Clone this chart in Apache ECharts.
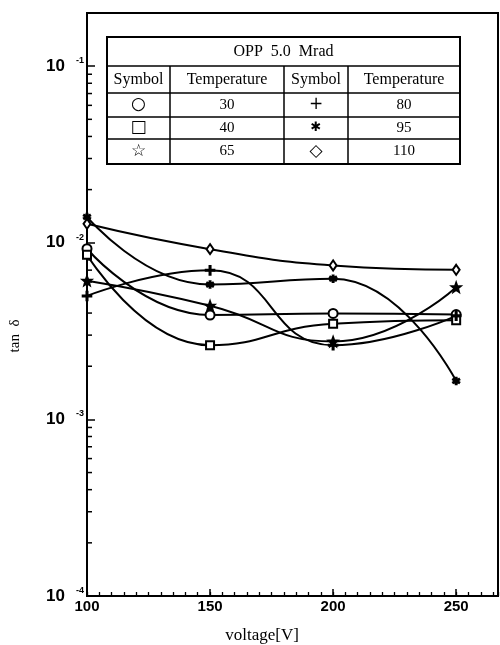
<!DOCTYPE html>
<html>
<head>
<meta charset="utf-8">
<script src="https://cdn.jsdelivr.net/npm/echarts@6/dist/echarts.min.js"></script>
<style>
  html, body { margin: 0; padding: 0; background: #fff; }
  #chart { width: 500px; height: 645px; }
</style>
</head>
<body>
<div id="chart"></div>
<script>
// data
var voltage = [100, 150, 200, 250];
var tan30 = [9.25e-3, 3.9e-3, 3.98e-3, 3.92e-3];
var tan40 = [8.55e-3, 2.63e-3, 3.48e-3, 3.64e-3];
var tan65 = [6.1e-3, 4.4e-3, 2.76e-3, 5.6e-3];
var tan80 = [5.0e-3, 6.98e-3, 2.63e-3, 3.86e-3];
var tan95 = [1.40e-2, 5.8e-3, 6.26e-3, 1.65e-3];
var tan110 = [1.28e-2, 9.2e-3, 7.44e-3, 7.03e-3];

var temperatures = ['30', '40', '65', '80', '95', '110'];
var tableSymbols = ['○', '□', '☆', '+', '✱', '◇'];
var tableTitle = 'OPP  5.0  Mrad';

var decades = [1e-4, 1e-3, 1e-2, 1e-1];
var minorSteps = [2, 3, 4, 5, 6, 7, 8, 9];

// minor ticks of the log axis
var yMinorTicks = [];
for (var d = 0; d < decades.length; d++) {
	for (var m = 0; m < minorSteps.length; m++) {
		var t = decades[d] * minorSteps[m];
		if (t < 0.2) yMinorTicks.push([100, t]);
	}
}

function pairs(ys) {
	var out = [];
	for (var i = 0; i < voltage.length; i++) out.push([voltage[i], ys[i]]);
	return out;
}

/**
 * polygon for plus / asterisk marks
 */
function armsPath(n, R, w) {
	var pts = [];
	var inner = w / Math.sin(Math.PI / n);
	for (var k = 0; k < n; k++) {
		var a = -Math.PI / 2 + k * 2 * Math.PI / n;
		var c = Math.cos(a), s = Math.sin(a);
		pts.push([R * c + w * s, R * s - w * c]);
		pts.push([R * c - w * s, R * s + w * c]);
		var b = a + Math.PI / n;
		pts.push([inner * Math.cos(b), inner * Math.sin(b)]);
	}
	return 'path://M' + pts.map(function (p) { return p[0].toFixed(2) + ',' + p[1].toFixed(2); }).join('L') + 'Z';
}

function starPath(R, r) {
	var pts = [];
	for (var k = 0; k < 10; k++) {
		var a = -Math.PI / 2 + k * Math.PI / 5;
		var rr = k % 2 === 0 ? R : r;
		pts.push([rr * Math.cos(a), rr * Math.sin(a)]);
	}
	return 'path://M' + pts.map(function (p) { return p[0].toFixed(2) + ',' + p[1].toFixed(2); }).join('L') + 'Z';
}

var plusSymbol = armsPath(4, 10, 1.6);
var asteriskSymbol = armsPath(6, 10, 1.8);
var starSymbol = starPath(10, 4.2);

function lineSeries(name, ys, symbol, size) {
	return {
		name: name,
		type: 'line',
		data: pairs(ys),
		smooth: 0.5,
		symbol: symbol,
		symbolSize: size,
		showSymbol: true,
		lineStyle: { color: '#000', width: 2 },
		itemStyle: { color: '#000', borderColor: '#000', borderWidth: 1.6 },
		z: 3
	};
}

// legend table drawn as graphic
var tX = 107, tY = 37, tW = 353, tH = 127;
var rowLines = [66, 93, 117, 139];
var colLines = [170, 284, 348];
var colCenters = [138.5, 227, 316, 404];
var rowCenters = [105, 128, 151.5];

var tableEls = [];
tableEls.push({ type: 'rect', shape: { x: tX, y: tY, width: tW, height: tH },
	style: { fill: '#fff', stroke: '#000', lineWidth: 2 } });
rowLines.forEach(function (y) {
	tableEls.push({ type: 'line', shape: { x1: tX, y1: y, x2: tX + tW, y2: y },
		style: { stroke: '#000', lineWidth: 1.5 } });
});
colLines.forEach(function (x) {
	tableEls.push({ type: 'line', shape: { x1: x, y1: rowLines[0], x2: x, y2: tY + tH },
		style: { stroke: '#000', lineWidth: 1.5 } });
});
function cellText(txt, x, y, size, family) {
	return { type: 'text', x: x, y: y,
		style: { text: txt, fill: '#000', font: size + 'px ' + family, align: 'center', verticalAlign: 'middle' } };
}
tableEls.push(cellText(tableTitle, tX + tW / 2, 51.5, 16, '"Liberation Serif", serif'));
['Symbol', 'Temperature', 'Symbol', 'Temperature'].forEach(function (h, i) {
	tableEls.push(cellText(h, colCenters[i], 79.5, 16, '"Liberation Serif", serif'));
});
for (var r = 0; r < 3; r++) {
	tableEls.push(cellText(tableSymbols[r], colCenters[0], rowCenters[r], 17, '"DejaVu Sans", sans-serif'));
	tableEls.push(cellText(temperatures[r], colCenters[1], rowCenters[r], 15, '"Liberation Serif", serif'));
	tableEls.push(cellText(tableSymbols[r + 3], colCenters[2], rowCenters[r], r === 1 ? 13 : 17, '"DejaVu Sans", sans-serif'));
	tableEls.push(cellText(temperatures[r + 3], colCenters[3], rowCenters[r], 15, '"Liberation Serif", serif'));
}

var myChart = echarts.init(document.getElementById('chart'));

var option = {
	animation: false,
	backgroundColor: '#fff',
	grid: {
		left: 87, right: 2, top: 13, bottom: 49,
		show: true, borderColor: '#000', borderWidth: 2,
		containLabel: false
	},
	xAxis: [
		{
			type: 'value', min: 100, max: 267, interval: 50, position: 'bottom',
			axisLine: { lineStyle: { color: '#000', width: 2 } },
			axisTick: { inside: true, length: 7, lineStyle: { color: '#000', width: 1.5 } },
			axisLabel: {
				color: '#000', fontSize: 15, fontWeight: 'bold', margin: 3,
				fontFamily: '"Liberation Sans", sans-serif',
				showMaxLabel: false,
				formatter: function (v) { return v % 50 === 0 ? String(v) : ''; }
			},
			splitLine: { show: false }
		},
		{
			type: 'value', min: 100, max: 267, interval: 5, position: 'bottom',
			axisLine: { show: false },
			axisTick: { inside: true, length: 4, lineStyle: { color: '#000', width: 1.3 } },
			axisLabel: { show: false },
			splitLine: { show: false }
		}
	],
	yAxis: {
		type: 'log', logBase: 10, min: 1e-4, max: 0.2,
		axisLine: { lineStyle: { color: '#000', width: 2 } },
		axisTick: { inside: true, length: 8, lineStyle: { color: '#000', width: 1.5 } },
		axisLabel: {
			margin: 3,
			formatter: function (v) {
				var e = Math.log(v) / Math.LN10;
				var re = Math.round(e);
				if (Math.abs(e - re) > 1e-6) return '';
				return '{b|10}{s|' + re + '}';
			},
			rich: {
				b: { fontSize: 17, fontWeight: 'bold', color: '#000', fontFamily: '"Liberation Sans", sans-serif' },
				s: { fontSize: 9, fontWeight: 'bold', color: '#000', fontFamily: '"Liberation Sans", sans-serif',
					padding: [0, 0, 11, 11] }
			}
		},
		splitLine: { show: false }
	},
	graphic: [
		{ type: 'group', children: tableEls, z: 10 },
		{ type: 'text', x: 15, y: 336, rotation: Math.PI / 2,
			style: { text: 'tan  δ', fill: '#000', font: '15px "Liberation Serif", serif', align: 'center', verticalAlign: 'middle' } },
		{ type: 'text', x: 262, y: 636,
			style: { text: 'voltage[V]', fill: '#000', font: '17px "Liberation Serif", serif', align: 'center', verticalAlign: 'middle' } }
	],
	series: [
		{
			type: 'custom',
			silent: true,
			data: yMinorTicks,
			renderItem: function (params, api) {
				var p = api.coord([api.value(0), api.value(1)]);
				return {
					type: 'line',
					shape: { x1: p[0], y1: p[1], x2: p[0] + 5, y2: p[1] },
					style: { stroke: '#000', lineWidth: 1.5 }
				};
			},
			z: 2
		},
		lineSeries('30', tan30, 'emptyCircle', 9),
		lineSeries('40', tan40, 'emptyRect', 8),
		lineSeries('65', tan65, starSymbol, 10),
		lineSeries('80', tan80, plusSymbol, 9),
		lineSeries('95', tan95, asteriskSymbol, 7),
		lineSeries('110', tan110, 'emptyDiamond', [7, 10])
	]
};

myChart.setOption(option);
</script>
</body>
</html>
